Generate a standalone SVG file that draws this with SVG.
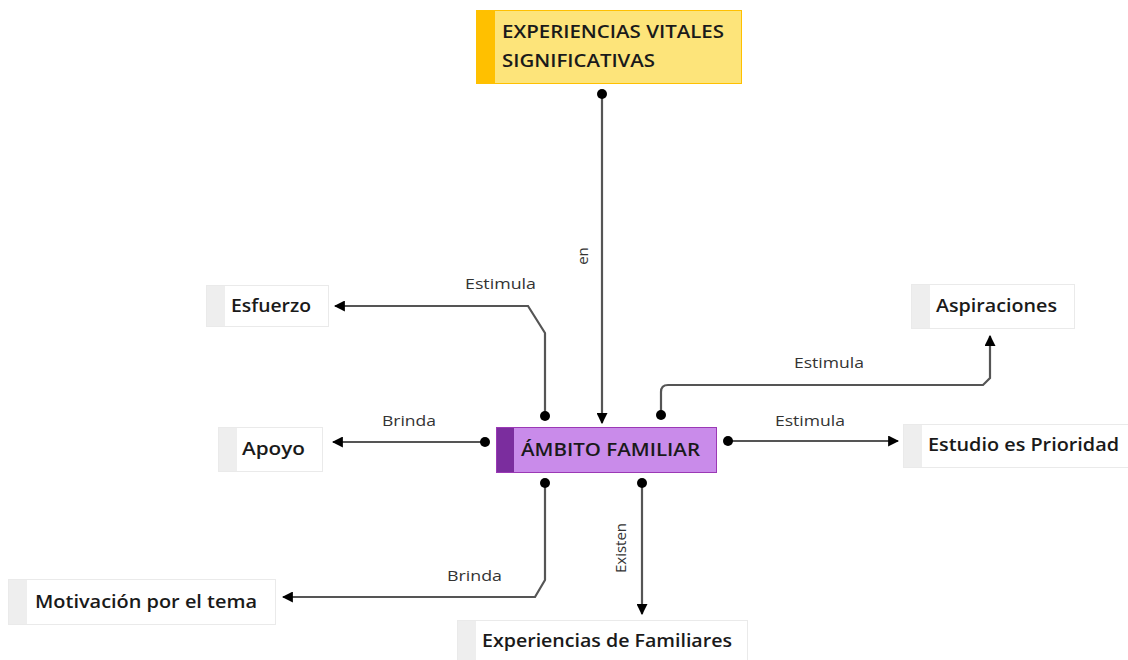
<svg xmlns="http://www.w3.org/2000/svg" width="1128" height="660" viewBox="0 0 1128 660">
<defs>
<style>
.lbl{font-family:"Open Sans","Noto Sans","Liberation Sans",sans-serif;font-size:18px;font-weight:600;fill:#1a1a1a}
.cl{font-family:"Open Sans","Noto Sans","Liberation Sans",sans-serif;font-size:15px;fill:#333}
.conn{fill:none;stroke:#555;stroke-width:2.2}
.wbox{fill:#fff;stroke:#eaeaea;stroke-width:1}
.wstripe{fill:#eeeeee}
</style>
<marker id="arr" viewBox="0 0 10 10" refX="9" refY="5" markerWidth="11" markerHeight="11" markerUnits="userSpaceOnUse" orient="auto"><path d="M0,0 L10,5 L0,10 z" fill="#000"/></marker>
<marker id="dot" viewBox="0 0 10 10" refX="5" refY="5" markerWidth="10" markerHeight="10" markerUnits="userSpaceOnUse"><circle cx="5" cy="5" r="5" fill="#000"/></marker>
</defs>
<rect width="1128" height="660" fill="#fff"/>
<g id="connectors">
<path class="conn" d="M602,94 L602,423" marker-start="url(#dot)" marker-end="url(#arr)"/>
<text class="cl" transform="translate(588,256) rotate(-90)" text-anchor="middle">en</text>
<path class="conn" d="M545,416 L545,333 L528,306 L335,306" marker-start="url(#dot)" marker-end="url(#arr)"/>
<text class="cl" x="465" y="289" textLength="71" lengthAdjust="spacingAndGlyphs">Estimula</text>
<path class="conn" d="M485,442 L333,442" marker-start="url(#dot)" marker-end="url(#arr)"/>
<text class="cl" x="382" y="426" textLength="54" lengthAdjust="spacingAndGlyphs">Brinda</text>
<path class="conn" d="M661,415 L661,392 Q661,385 668,385 L983,385 L990,378 L990,336" marker-start="url(#dot)" marker-end="url(#arr)"/>
<text class="cl" x="794" y="368" textLength="70" lengthAdjust="spacingAndGlyphs">Estimula</text>
<path class="conn" d="M728,441 L898,441" marker-start="url(#dot)" marker-end="url(#arr)"/>
<text class="cl" x="775" y="426" textLength="70" lengthAdjust="spacingAndGlyphs">Estimula</text>
<path class="conn" d="M545,483 L545,580 L535,597 L283,597" marker-start="url(#dot)" marker-end="url(#arr)"/>
<text class="cl" x="447" y="581" textLength="55" lengthAdjust="spacingAndGlyphs">Brinda</text>
<path class="conn" d="M642,483 L642,614" marker-start="url(#dot)" marker-end="url(#arr)"/>
<text class="cl" transform="translate(626,548) rotate(-90)" text-anchor="middle">Existen</text>
</g>
<g id="experiencias-vitales">
<rect x="476.5" y="10.5" width="265" height="73" fill="#fde47a" stroke="#ffc000"/>
<rect x="477" y="11" width="18" height="72" fill="#ffc000"/>
<text class="lbl" x="502" y="38" textLength="222" lengthAdjust="spacingAndGlyphs">EXPERIENCIAS VITALES</text>
<text class="lbl" x="502" y="67" textLength="153" lengthAdjust="spacingAndGlyphs">SIGNIFICATIVAS</text>
</g>
<g id="ambito-familiar">
<rect x="496.5" y="427.5" width="220" height="45" fill="#c98bea" stroke="#9b39b5"/>
<rect x="497" y="428" width="17" height="44" fill="#7b2d9e"/>
<text class="lbl" x="521" y="456" textLength="179" lengthAdjust="spacingAndGlyphs">ÁMBITO FAMILIAR</text>
</g>
<g id="esfuerzo">
<rect class="wbox" x="206.5" y="285.5" width="122" height="41"/>
<rect class="wstripe" x="207" y="286" width="18" height="40"/>
<text class="lbl" x="231" y="312" textLength="80" lengthAdjust="spacingAndGlyphs">Esfuerzo</text>
</g>
<g id="apoyo">
<rect class="wbox" x="218.5" y="427.5" width="104" height="44"/>
<rect class="wstripe" x="219" y="428" width="18" height="43"/>
<text class="lbl" x="242" y="455" textLength="63" lengthAdjust="spacingAndGlyphs">Apoyo</text>
</g>
<g id="aspiraciones">
<rect class="wbox" x="911.5" y="284.5" width="163" height="44"/>
<rect class="wstripe" x="912" y="285" width="18" height="43"/>
<text class="lbl" x="936" y="312" textLength="121" lengthAdjust="spacingAndGlyphs">Aspiraciones</text>
</g>
<g id="estudio">
<rect class="wbox" x="903.5" y="424.5" width="230" height="43"/>
<rect class="wstripe" x="904" y="425" width="18" height="42"/>
<text class="lbl" x="928" y="451" textLength="191" lengthAdjust="spacingAndGlyphs">Estudio es Prioridad</text>
</g>
<g id="motivacion">
<rect class="wbox" x="8.5" y="579.5" width="267" height="45"/>
<rect class="wstripe" x="9" y="580" width="18" height="44"/>
<text class="lbl" x="35" y="608" textLength="222" lengthAdjust="spacingAndGlyphs">Motivación por el tema</text>
</g>
<g id="experiencias-familiares">
<rect class="wbox" x="457.5" y="620.5" width="290" height="45"/>
<rect class="wstripe" x="458" y="621" width="18" height="44"/>
<text class="lbl" x="482" y="647" textLength="250" lengthAdjust="spacingAndGlyphs">Experiencias de Familiares</text>
</g>
</svg>
